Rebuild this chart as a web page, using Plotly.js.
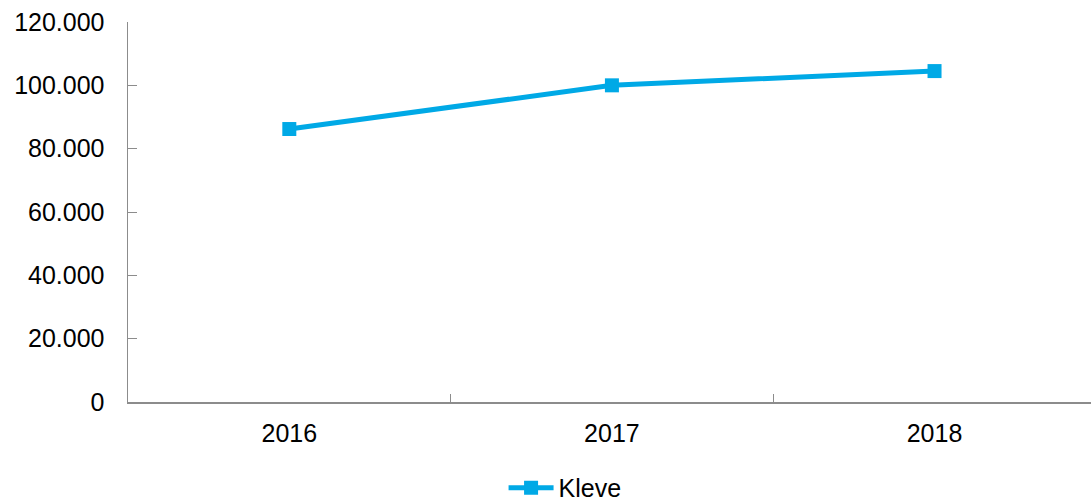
<!DOCTYPE html>
<html>
<head>
<meta charset="utf-8">
<script src="https://cdn.plot.ly/plotly-3.0.1.min.js"></script>
<style>html,body{margin:0;padding:0;background:#fff;}#chart{width:1091px;height:502px;}</style>
</head>
<body>
<div id="chart"></div>
<script>
const years = ["2016", "2017", "2018"];
const kleve = [86200, 100000, 104500];
const seriesName = "Kleve";
const yTicks = [0, 20000, 40000, 60000, 80000, 100000, 120000];
const yTickLabels = ["0", "20.000", "40.000", "60.000", "80.000", "100.000", "120.000"];

const color = "#00A9E6";
const trace = {
  x: years, y: kleve, name: seriesName, type: "scatter", mode: "lines+markers",
  line: {color: color, width: 5},
  marker: {symbol: "square", size: 14, color: color}
};
const layout = {
  width: 1091, height: 502,
  margin: {l: 128, r: 0, t: 22, b: 100, pad: 0},
  paper_bgcolor: "#fff", plot_bgcolor: "#fff",
  font: {family: "Liberation Sans, Arial, sans-serif", size: 25, color: "#000"},
  showlegend: true,
  legend: {orientation: "h", x: 0.39, xanchor: "left", yref: "container", y: 0.028, yanchor: "middle",
           font: {size: 25}, itemwidth: 45},
  xaxis: {type: "category", range: [-0.5, 2.485], tickson: "boundaries",
          ticks: "inside", ticklen: 8, tickcolor: "#8c8c8c", tickwidth: 1,
          showline: true, linecolor: "#8c8c8c", linewidth: 1.5, showgrid: false,
          zeroline: false, ticklabelstandoff: 8, fixedrange: true},
  yaxis: {range: [0, 120000], tickvals: yTicks, ticktext: yTickLabels,
          ticks: "inside", ticklen: 9, tickcolor: "#8c8c8c", tickwidth: 1,
          showline: true, linecolor: "#8c8c8c", linewidth: 1.5, showgrid: false,
          zeroline: false, ticklabelstandoff: 17, fixedrange: true}
};
Plotly.newPlot("chart", [trace], layout, {displayModeBar: false, staticPlot: true});
</script>
</body>
</html>
